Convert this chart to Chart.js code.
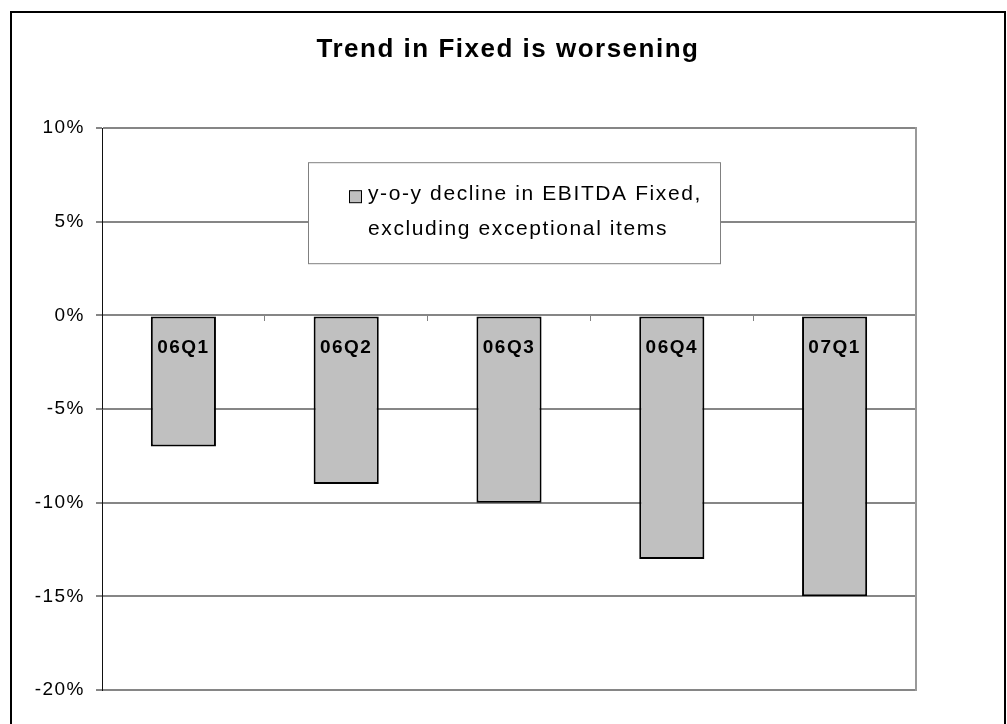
<!DOCTYPE html>
<html>
<head>
<meta charset="utf-8">
<script src="https://cdn.jsdelivr.net/npm/chart.js@4"></script>
<style>
  body { margin:0; overflow:hidden; background:#fff; }
  #wrap { position:relative; width:1007px; height:724px; }
  #frame { position:absolute; left:10px; top:11px; width:996px; height:760px; border:2px solid #000; box-sizing:border-box; pointer-events:none; }
</style>
</head>
<body>
<div id="wrap">
  <canvas id="chart" width="1007" height="724"></canvas>
  <div id="frame"></div>
</div>
<script>
// data
var quarters = ['06Q1', '06Q2', '06Q3', '06Q4', '07Q1'];
var declinePct = [-7, -9, -10, -13, -15];
var legendLines = ['y-o-y decline in EBITDA Fixed,', 'excluding exceptional items'];
var chartTitle = 'Trend in Fixed is worsening';

Chart.defaults.font.family = "'Liberation Sans', Arial, sans-serif";

// spaced-out text like the original
var spacing = {
  id: 'spacing',
  beforeLayout: function(chart){ chart.ctx.letterSpacing = '1.5px'; },
  beforeDraw: function(chart){ chart.ctx.letterSpacing = '1.5px'; }
};

// boxed legend inside the plot
var legendBox = {
  id: 'legendBox',
  afterDatasetsDraw: function(chart){
    var a = chart.chartArea, ctx = chart.ctx;
    var ds = chart.data.datasets[0];
    var bx = a.left + 206, by = a.top + 34;
    ctx.save();
    ctx.fillStyle = '#fff';
    ctx.fillRect(bx, by, 413, 102);
    ctx.strokeStyle = '#808080';
    ctx.lineWidth = 1;
    ctx.strokeRect(bx + 0.5, by + 0.5, 412, 101);
    ctx.fillStyle = ds.backgroundColor;
    ctx.fillRect(bx + 41.5, by + 28.5, 12, 12);
    ctx.strokeStyle = '#000';
    ctx.strokeRect(bx + 41.5, by + 28.5, 12, 12);
    ctx.fillStyle = '#000';
    ctx.font = "21px 'Liberation Sans', Arial, sans-serif";
    ctx.textAlign = 'left';
    ctx.textBaseline = 'middle';
    ctx.letterSpacing = '1.6px';
    ctx.fillText(legendLines[0], bx + 60, by + 32);
    ctx.fillText(legendLines[1], bx + 60, by + 67);
    ctx.restore();
  }
};

var ctx = document.getElementById('chart').getContext('2d');
var myChart = new Chart(ctx, {
  type: 'bar',
  data: {
    labels: quarters,
    datasets: [{
      label: legendLines.join(' '),
      data: declinePct,
      backgroundColor: '#c0c0c0',
      borderColor: '#000',
      borderWidth: 2,
      borderSkipped: false,
      barPercentage: 0.4,
      categoryPercentage: 1
    }]
  },
  options: {
    responsive: false,
    animation: false,
    devicePixelRatio: 1,
    layout: { padding: { left: 9, right: 0, top: 0, bottom: 34 } },
    plugins: {
      legend: { display: false },
      tooltip: { enabled: false },
      title: {
        display: true,
        text: chartTitle,
        color: '#000',
        font: { size: 26, weight: 'bold' },
        padding: { top: 34, bottom: 63 }
      }
    },
    scales: {
      x: {
        type: 'category',
        position: { y: 0 },
        border: { display: false },
        grid: { offset: true, drawOnChartArea: false, tickLength: 6, color: '#808080', lineWidth: 1 },
        ticks: { z: 1, color: '#000', font: { size: 19, weight: 'bold' }, padding: 15, maxRotation: 0 }
      },
      y: {
        min: -20,
        max: 10,
        afterFit: function(scale){ scale.width = 93; },
        border: { display: true, color: '#111', width: 1, z: 1 },
        grid: { color: '#868686', lineWidth: 2, tickLength: 6, tickColor: '#868686' },
        ticks: {
          stepSize: 5,
          color: '#000',
          font: { size: 19 },
          padding: 11,
          callback: function(v){ return v + '%'; }
        }
      },
      // right edge of the plot frame
      y2: {
        position: 'right',
        min: -20,
        max: 10,
        afterFit: function(scale){ scale.width = 91; },
        border: { display: true, color: '#999', width: 2 },
        grid: { display: false },
        ticks: { display: false }
      }
    }
  },
  plugins: [spacing, legendBox]
});
</script>
</body>
</html>
